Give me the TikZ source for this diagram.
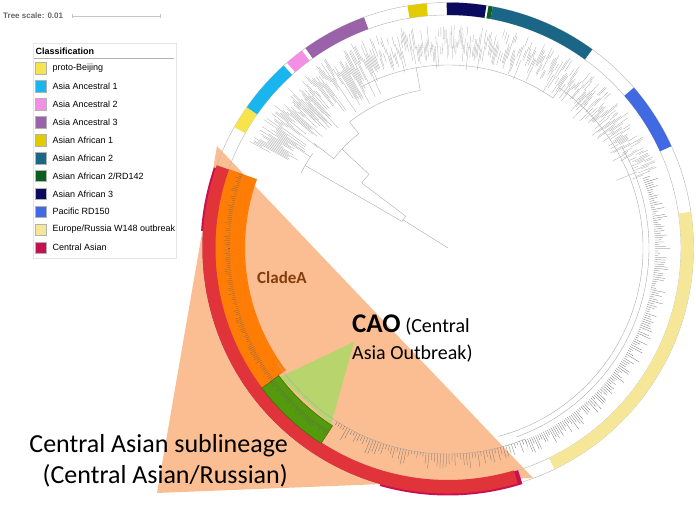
\documentclass[tikz,border=0pt]{standalone}
\usepackage{fontspec}
\setmainfont{Carlito}
\newfontfamily\legendfont{Liberation Sans}
\usetikzlibrary{positioning}

\definecolor{protoB}{HTML}{F7E34B}
\definecolor{asiaAncA}{HTML}{18B5EE}
\definecolor{asiaAncB}{HTML}{F390E3}
\definecolor{asiaAncC}{HTML}{9A62A8}
\definecolor{asAfrA}{HTML}{E2CB00}
\definecolor{asAfrB}{HTML}{1B6687}
\definecolor{asAfrRD}{HTML}{0B5E1E}
\definecolor{asAfrC}{HTML}{0A0A5E}
\definecolor{pacific}{HTML}{4169E1}
\definecolor{euroW}{HTML}{F6E697}
\definecolor{centAsian}{HTML}{C80F52}
\definecolor{peach}{HTML}{FBBE92}
\definecolor{cladeOrange}{HTML}{FF7D05}
\definecolor{subRed}{HTML}{E0343A}
\definecolor{caoGreen}{HTML}{539A0C}
\definecolor{caoLight}{HTML}{B8D46C}
\definecolor{cladeText}{HTML}{843C0C}
\definecolor{treeGray}{HTML}{ABABAB}

% annular sector: fill, from, to, inner r, outer r
\newcommand{\RingArc}[5]{%
  \fill[#1] (#2:#4pt) arc[start angle=#2, end angle=#3, radius=#4pt]
    -- (#3:#5pt) arc[start angle=#3, end angle=#2, radius=#5pt] -- cycle;}
% tree arc: style, radius, from, to
\newcommand{\TreeArc}[4]{%
  \draw[#1] (#3:#2pt) arc[start angle=#3, end angle=#4, radius=#2pt];}

\begin{document}
\begin{tikzpicture}[
    x=1pt, y=1pt,
    leaf/.style={draw=treeGray, line width=0.3pt},
    darkleaf/.style={draw=black!60, line width=0.25pt},
    branch/.style={draw=gray!65, line width=0.4pt},
    ringline/.style={draw=gray!55, line width=0.45pt},
    legtext/.style={font=\legendfont\fontsize{9}{10}\selectfont, inner sep=0pt},
    swatch/.style={draw=gray!60, line width=0.3pt, minimum size=11.5pt, inner sep=0pt}
]
\useasboundingbox (0,0) rectangle (696,524);

% 1. Highlight wedge of the sublineage
\fill[peach] (217,378) -- (157,31) -- (533,46) -- cycle;

\begin{scope}[shift={(448,276)}]
% 2. Classification ring
\draw[ringline] (0,0) circle[radius=233pt];
\draw[ringline] (0,0) circle[radius=245.5pt];
\RingArc{protoB}{145}{150.5}{233}{245.5}
\RingArc{asiaAncA}{132}{145}{233}{245.5}
\RingArc{asiaAncB}{126.5}{131}{233}{245.5}
\RingArc{asiaAncC}{110}{125.5}{233}{245.5}
\RingArc{asAfrA}{95}{99.5}{233}{245.5}
\RingArc{asAfrC}{81}{90.3}{233}{245.5}
\RingArc{asAfrRD}{79.5}{80.5}{233}{245.5}
\RingArc{asAfrB}{54}{79.5}{233}{245.5}
\RingArc{pacific}{24.5}{40.8}{233}{245.5}
\RingArc{euroW}{-64.3}{8.5}{233}{245.5}
\RingArc{centAsian}{160.5}{287.5}{233}{245.5}
\RingArc{centAsian}{161}{176}{245}{247.5}
\RingArc{centAsian}{254}{287.5}{245}{247.5}
\RingArc{subRed}{160.3}{286.5}{232}{245.5}

% 3. CladeA and CAO bands
\RingArc{cladeOrange}{160.2}{217}{203}{232.5}
\fill[caoLight] (-94,-94) -- (217.5:212pt) -- (236.5:212pt) -- cycle;
\RingArc{caoGreen}{217}{237}{212}{233}
\draw[caoGreen!70!black, line width=0.5pt] (217:212pt) arc[start angle=217, end angle=237, radius=212pt]
  -- (237:233pt) arc[start angle=237, end angle=217, radius=233pt] -- cycle;

% 4. Tree backbone
\draw[branch] (0,0) -- (148:53pt);
\TreeArc{branch}{53}{143}{150}
\draw[branch] (150:53pt) -- (150:108pt);
\draw[branch] (143:53pt) -- (143:108pt);
\TreeArc{branch}{108}{137}{143}
\draw[branch] (150:108pt) -- (150:165pt);
\TreeArc{branch}{165}{145}{153}
\draw[branch] (137:108pt) -- (137:145pt);
\TreeArc{branch}{145}{128}{142}
\draw[branch] (142:145pt) -- (142:170pt);
\draw[branch] (128:145pt) -- (128:160pt);
\TreeArc{branch}{160}{100}{128}
\draw[branch] (100:160pt) -- (100:183pt);
\TreeArc{branch}{183}{55}{118}
\draw[branch] (55:183pt) -- (55:195pt);
\TreeArc{branch}{195}{-75}{55}
\TreeArc{branch}{201}{-70}{30}
\TreeArc{branch}{206}{214}{292}

% 5. Leaves
\pgfmathsetseed{2718}
\foreach \a in {20.5,20.85,...,152}{
  \pgfmathsetmacro{\ro}{201+25*rnd}
  \pgfmathsetmacro{\ri}{\ro-6-((\a>112)?38:18)*rnd}
  \draw[leaf] (\a:\ri pt) -- (\a:\ro pt);
}
\foreach \a in {-68,-67.4,...,20}{
  \pgfmathsetmacro{\ro}{209+14*rnd}
  \draw[darkleaf] (\a:207pt) -- (\a:\ro pt);
}
\foreach \a in {237.5,238.3,...,292}{
  \pgfmathsetmacro{\ro}{209+13*rnd}
  \draw[darkleaf] (\a:206pt) -- (\a:\ro pt);
}
\foreach \a in {160.5,161,...,236.5}{
  \pgfmathsetmacro{\ro}{220+5*rnd}
  \draw[darkleaf] (\a:218pt) -- (\a:\ro pt);
}
\end{scope}

% 6. Annotations
\node[anchor=base west, inner sep=0pt, text=cladeText, font=\bfseries\fontsize{17}{20}\selectfont] (cladeA) at (257,240) {CladeA};
\node[anchor=base west, align=left, inner sep=0pt, font=\fontsize{20}{27}\selectfont] (cao) at (352,164)
  {{\fontsize{27}{27}\selectfont\bfseries CAO} (Central\\Asia Outbreak)};
\node[anchor=base east, align=right, inner sep=0pt, font=\fontsize{26}{31}\selectfont] (sublin) at (288,40)
  {Central Asian sublineage\\(Central Asian/Russian)};

% 7. Tree scale
\node[anchor=base west, inner sep=0pt, text=black!60, font=\legendfont\bfseries\fontsize{8}{9}\selectfont] (scale) at (3,505) {Tree scale: 0.01};
\coordinate (barL) at (72,508);
\coordinate (barR) at (160,508);
\draw[gray!45, line width=0.5pt] (barL) -- (barR);
\draw[gray!45, line width=0.5pt] ([yshift=-2pt]barL) -- ([yshift=2pt]barL);
\draw[gray!45, line width=0.5pt] ([yshift=-2pt]barR) -- ([yshift=2pt]barR);

% 8. Legend
\node[draw=gray!20, line width=0.4pt, minimum width=143pt, minimum height=215pt, anchor=north west, inner sep=0pt] (legbox) at (33,481) {};
\node[anchor=base west, inner sep=0pt, font=\legendfont\bfseries\fontsize{9}{10}\selectfont] (legtitle) at (35.5,469.5) {Classification};
\draw[gray!60, line width=0.5pt] ([xshift=1pt, yshift=-15.5pt]legbox.north west) -- ([xshift=-2pt, yshift=-15.5pt]legbox.north east);
\foreach \col/\lab [count=\i] in {protoB/proto-Beijing, asiaAncA/Asia Ancestral 1, asiaAncB/Asia Ancestral 2,
    asiaAncC/Asia Ancestral 3, asAfrA/Asian African 1, asAfrB/Asian African 2, asAfrRD/{Asian African 2/RD142},
    asAfrC/Asian African 3, pacific/Pacific RD150, euroW/{Europe/Russia W148 outbreak}, centAsian/Central Asian}{
  \node[swatch, fill=\col] (sw\i) at (40.5,{455.7-17.93*(\i-1)}) {};
  \node[legtext, right=6pt of sw\i] (lab\i) {\lab};
}

\end{tikzpicture}
\end{document}
